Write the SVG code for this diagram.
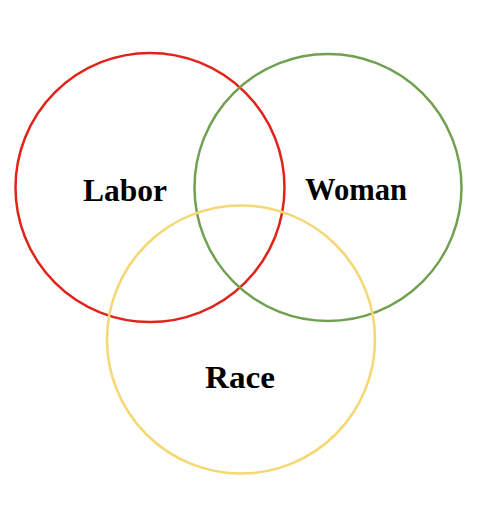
<svg xmlns="http://www.w3.org/2000/svg" width="489" height="511" viewBox="0 0 489 511">
<style>
.c{fill:none;stroke-width:2.5}
.t{font-family:"Liberation Serif",serif;font-weight:bold;font-size:31px;fill:#000;text-anchor:middle}
</style>
<rect width="489" height="511" fill="#fff"/>
<g id="labor"><circle class="c" cx="150" cy="187.5" r="134.5" stroke="#e2231a"/><text class="t" x="125" y="201" textLength="84" lengthAdjust="spacingAndGlyphs">Labor</text></g>
<g id="woman"><circle class="c" cx="328" cy="187.5" r="133.5" stroke="#70a050"/><text class="t" x="356" y="200" textLength="102" lengthAdjust="spacingAndGlyphs">Woman</text></g>
<g id="race"><circle class="c" cx="241" cy="339.5" r="134" stroke="#f5d873"/><text class="t" x="240" y="388" textLength="70" lengthAdjust="spacingAndGlyphs">Race</text></g>
</svg>
